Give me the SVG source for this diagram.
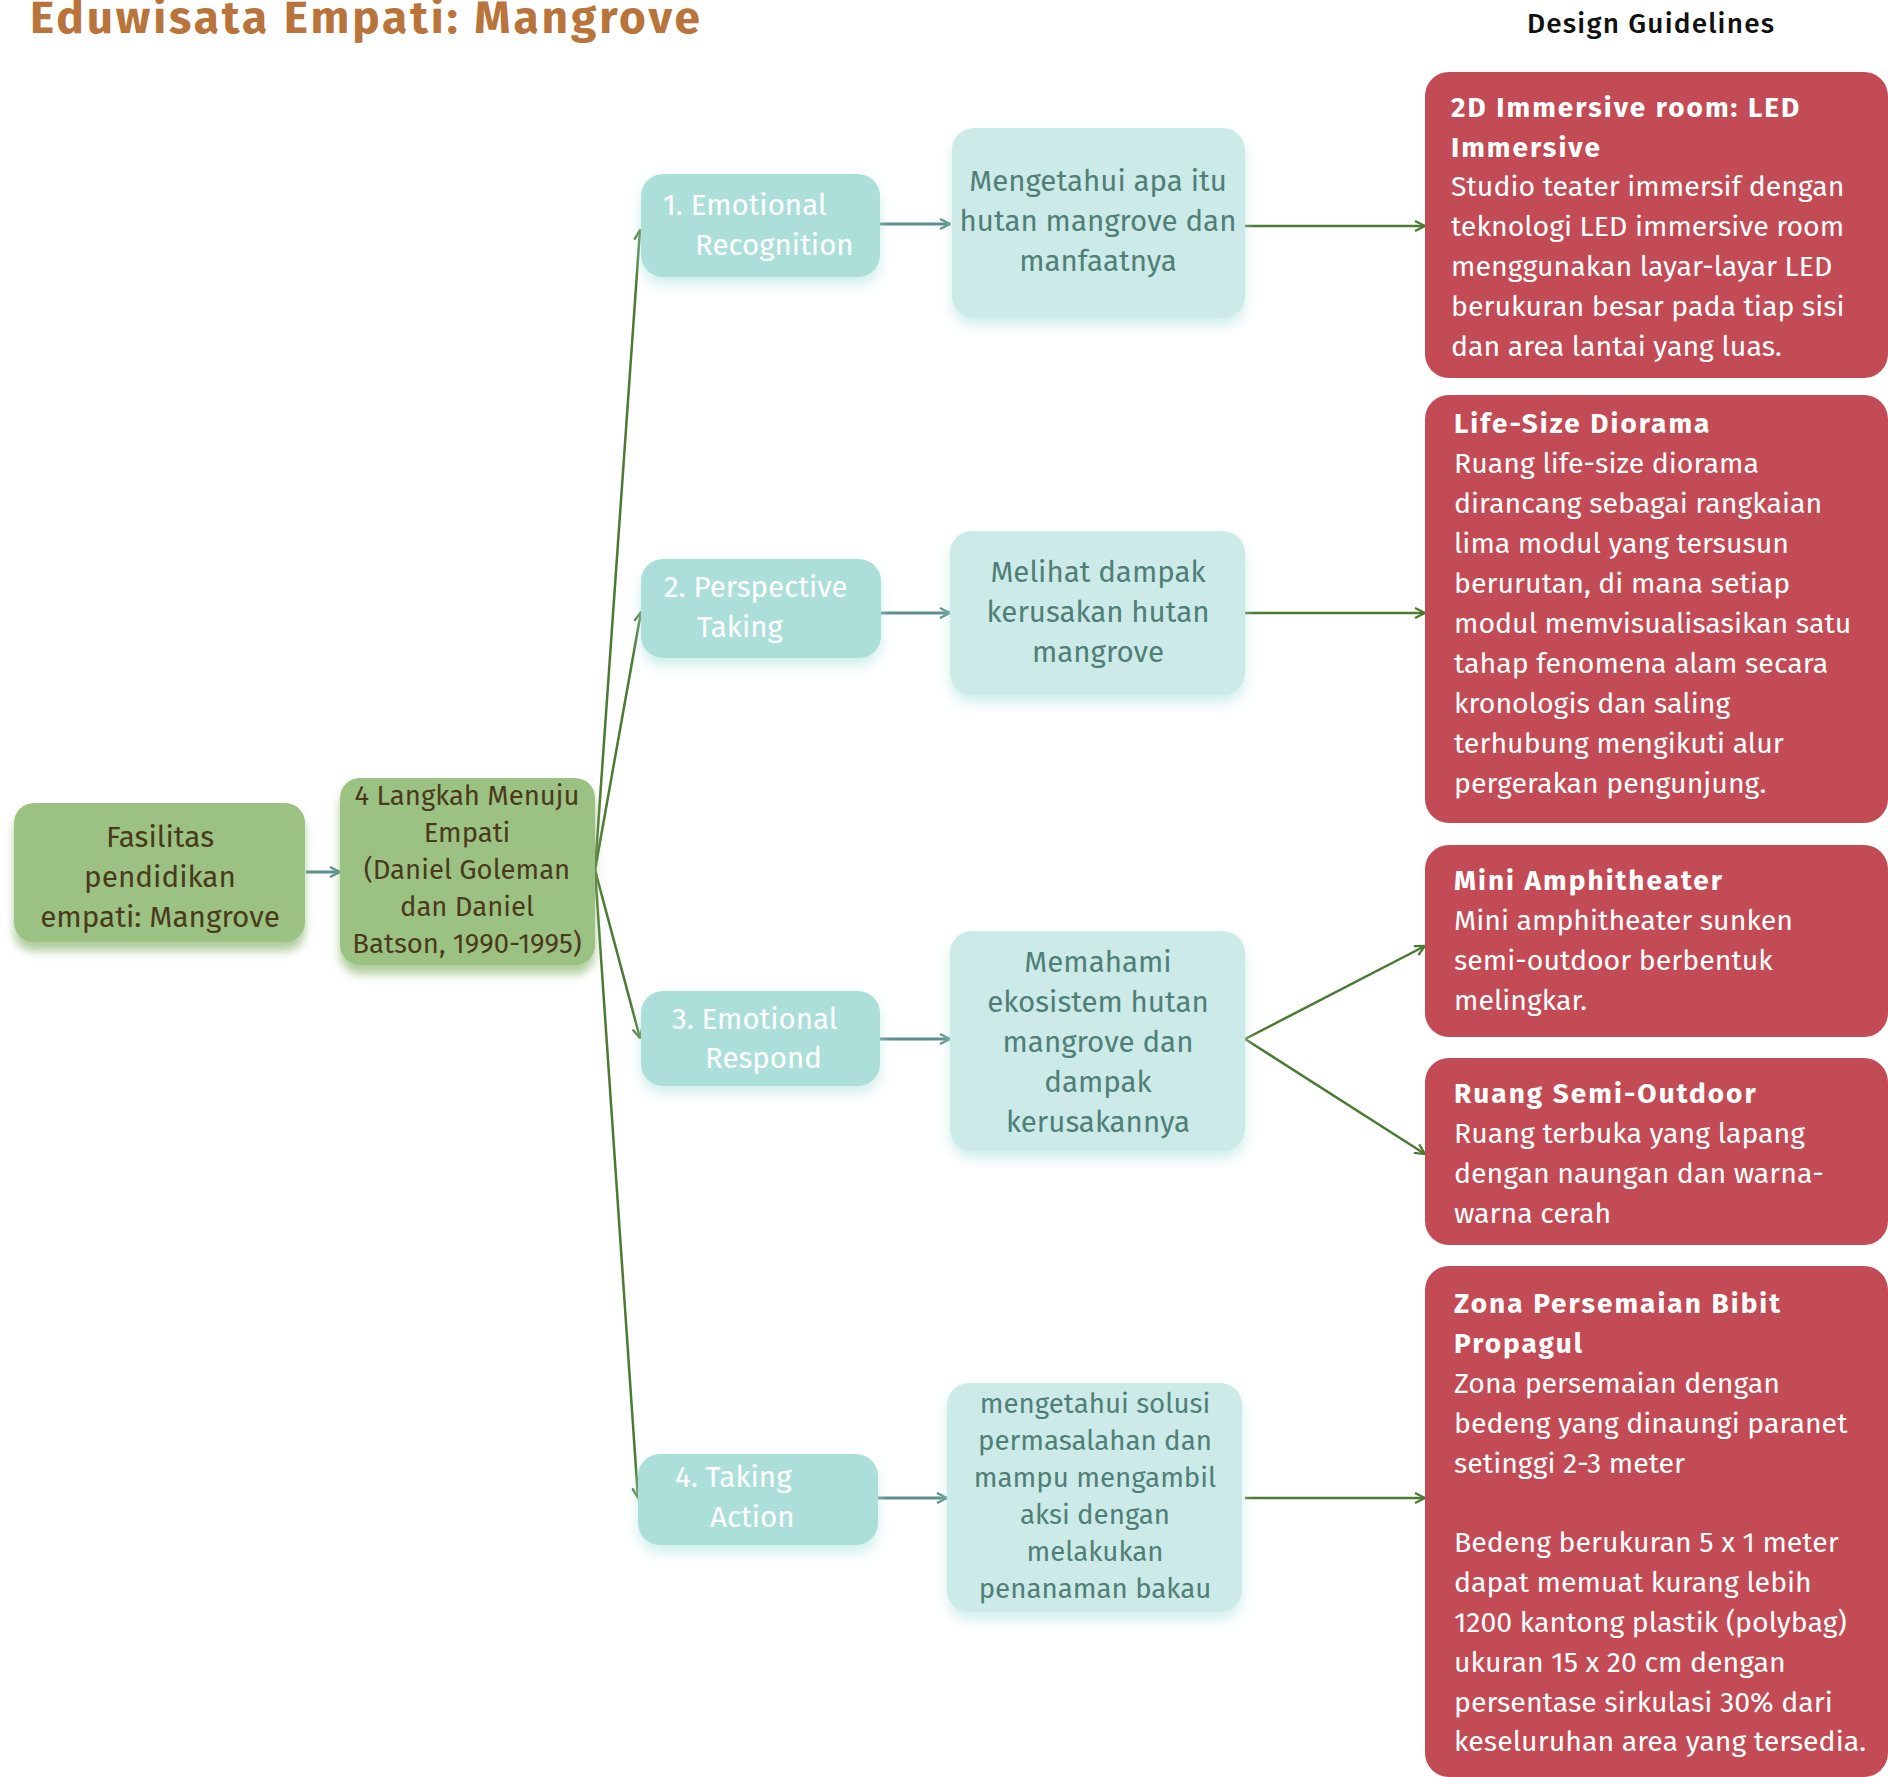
<svg xmlns="http://www.w3.org/2000/svg" width="1888" height="1777" viewBox="0 0 1888 1777">
<style>
text{font-family:"Fira Sans","Noto Sans","Open Sans",sans-serif;}
.title{font-size:46px;font-weight:700;fill:#B8743A;}
.dg{font-size:28px;font-weight:500;fill:#111;}
.gnode{fill:#9BC283;}
.gtxt{font-size:29.7px;fill:#4A3A1C;text-anchor:middle;}
.btxt{font-size:27.5px;fill:#4A3A1C;text-anchor:middle;}
.tnode{fill:#ACDFD9;}
.ttxt{font-size:29.5px;fill:#FFFFFF;}
.lnode{fill:#CCEAE7;}
.ltxt{font-size:29.5px;fill:#4F7F77;text-anchor:middle;}
.ltxt2{font-size:27.7px;fill:#4F7F77;text-anchor:middle;}
.rnode{fill:#C34B55;}
.rtxt{font-size:28.5px;fill:#FFFFFF;}
.rb{font-size:28px;font-weight:700;letter-spacing:2px;}
.cg{fill:none;stroke:#4B7A32;stroke-width:2.5;marker-end:url(#ag);}
.ct{fill:none;stroke:#5B8E8A;stroke-width:3;marker-end:url(#at);}
</style>
<defs>
<marker id="ag" viewBox="0 0 12 12" refX="11" refY="6" markerWidth="12" markerHeight="12" markerUnits="userSpaceOnUse" orient="auto">
<path d="M1,1 L11,6 L1,11" fill="none" stroke="#4B7A32" stroke-width="2.2"/>
</marker>
<marker id="at" viewBox="0 0 12 12" refX="11" refY="6" markerWidth="12" markerHeight="12" markerUnits="userSpaceOnUse" orient="auto">
<path d="M1,1 L11,6 L1,11" fill="none" stroke="#5B8E8A" stroke-width="2.2"/>
</marker>
<filter id="sg" x="-20%" y="-20%" width="140%" height="150%">
<feDropShadow dx="0" dy="9" stdDeviation="5" flood-color="#8DB873" flood-opacity="0.7"/>
</filter>
<filter id="st" x="-20%" y="-20%" width="140%" height="150%">
<feDropShadow dx="0" dy="8" stdDeviation="6" flood-color="#BFEAE5" flood-opacity="0.7"/>
</filter>
</defs>

<text class="title" x="30" y="33" textLength="670" lengthAdjust="spacing">Eduwisata Empati: Mangrove</text>
<text class="dg" x="1527" y="33" textLength="247" lengthAdjust="spacing">Design Guidelines</text>

<g id="connectors">
<line class="ct" x1="306" y1="872" x2="340" y2="872"/>
<line class="cg" x1="595" y1="870" x2="640" y2="230"/>
<line class="cg" x1="595" y1="870" x2="641" y2="612"/>
<line class="cg" x1="595" y1="870" x2="640" y2="1038"/>
<line class="cg" x1="595" y1="870" x2="638" y2="1498"/>
<line class="ct" x1="880" y1="224" x2="950" y2="224"/>
<line class="ct" x1="881" y1="613" x2="950" y2="613"/>
<line class="ct" x1="880" y1="1039" x2="950" y2="1039"/>
<line class="ct" x1="878" y1="1498" x2="947" y2="1498"/>
<line class="cg" x1="1245" y1="226" x2="1425" y2="226"/>
<line class="cg" x1="1245" y1="613" x2="1425" y2="613"/>
<line class="cg" x1="1245" y1="1039" x2="1425" y2="946"/>
<line class="cg" x1="1245" y1="1039" x2="1425" y2="1154"/>
<line class="cg" x1="1245" y1="1498" x2="1425" y2="1498"/>
</g>

<g id="node-fasilitas">
<rect class="gnode" x="14" y="803" width="291" height="139" rx="20" filter="url(#sg)"/>
<text class="gtxt" x="160" y="847">Fasilitas</text>
<text class="gtxt" x="160" y="887">pendidikan</text>
<text class="gtxt" x="160" y="927">empati: Mangrove</text>
</g>

<g id="node-langkah">
<rect class="gnode" x="340" y="778" width="255" height="187" rx="20" filter="url(#sg)"/>
<text class="btxt" x="467" y="805">4 Langkah Menuju</text>
<text class="btxt" x="467" y="842">Empati</text>
<text class="btxt" x="467" y="879">(Daniel Goleman</text>
<text class="btxt" x="467" y="916">dan Daniel</text>
<text class="btxt" x="467" y="953">Batson, 1990-1995)</text>
</g>

<g id="node-step1">
<rect class="tnode" x="641" y="174" width="239" height="103" rx="22" filter="url(#st)"/>
<text class="ttxt" x="663" y="215">1. Emotional</text>
<text class="ttxt" x="695" y="255">Recognition</text>
</g>
<g id="node-step2">
<rect class="tnode" x="641" y="559" width="240" height="99" rx="22" filter="url(#st)"/>
<text class="ttxt" x="664" y="597">2. Perspective</text>
<text class="ttxt" x="697" y="637">Taking</text>
</g>
<g id="node-step3">
<rect class="tnode" x="641" y="991" width="239" height="95" rx="22" filter="url(#st)"/>
<text class="ttxt" x="672" y="1029">3. Emotional</text>
<text class="ttxt" x="705" y="1068">Respond</text>
</g>
<g id="node-step4">
<rect class="tnode" x="638" y="1454" width="240" height="91" rx="22" filter="url(#st)"/>
<text class="ttxt" x="675" y="1487">4. Taking</text>
<text class="ttxt" x="710" y="1527">Action</text>
</g>

<g id="node-goal1">
<rect class="lnode" x="952" y="128" width="293" height="190" rx="22" filter="url(#st)"/>
<text class="ltxt" x="1098" y="191">Mengetahui apa itu</text>
<text class="ltxt" x="1098" y="231">hutan mangrove dan</text>
<text class="ltxt" x="1098" y="271">manfaatnya</text>
</g>
<g id="node-goal2">
<rect class="lnode" x="950" y="531" width="295" height="164" rx="22" filter="url(#st)"/>
<text class="ltxt" x="1098" y="582">Melihat dampak</text>
<text class="ltxt" x="1098" y="622">kerusakan hutan</text>
<text class="ltxt" x="1098" y="662">mangrove</text>
</g>
<g id="node-goal3">
<rect class="lnode" x="950" y="931" width="295" height="220" rx="22" filter="url(#st)"/>
<text class="ltxt" x="1098" y="972">Memahami</text>
<text class="ltxt" x="1098" y="1012">ekosistem hutan</text>
<text class="ltxt" x="1098" y="1052">mangrove dan</text>
<text class="ltxt" x="1098" y="1092">dampak</text>
<text class="ltxt" x="1098" y="1132">kerusakannya</text>
</g>
<g id="node-goal4">
<rect class="lnode" x="947" y="1383" width="295" height="229" rx="22" filter="url(#st)"/>
<text class="ltxt2" x="1095" y="1413">mengetahui solusi</text>
<text class="ltxt2" x="1095" y="1450">permasalahan dan</text>
<text class="ltxt2" x="1095" y="1487">mampu mengambil</text>
<text class="ltxt2" x="1095" y="1524">aksi dengan</text>
<text class="ltxt2" x="1095" y="1561">melakukan</text>
<text class="ltxt2" x="1095" y="1598">penanaman bakau</text>
</g>

<g id="node-immersive">
<rect class="rnode" x="1425" y="72" width="463" height="306" rx="24"/>
<text class="rtxt rb" x="1451" y="117">2D Immersive room: LED</text>
<text class="rtxt rb" x="1451" y="157">Immersive</text>
<text class="rtxt" x="1451" y="196">Studio teater immersif dengan</text>
<text class="rtxt" x="1451" y="236">teknologi LED immersive room</text>
<text class="rtxt" x="1451" y="276">menggunakan layar-layar LED</text>
<text class="rtxt" x="1451" y="316">berukuran besar pada tiap sisi</text>
<text class="rtxt" x="1451" y="356">dan area lantai yang luas.</text>
</g>

<g id="node-diorama">
<rect class="rnode" x="1425" y="395" width="463" height="428" rx="24"/>
<text class="rtxt rb" x="1454" y="433">Life-Size Diorama</text>
<text class="rtxt" x="1454" y="473">Ruang life-size diorama</text>
<text class="rtxt" x="1454" y="513">dirancang sebagai rangkaian</text>
<text class="rtxt" x="1454" y="553">lima modul yang tersusun</text>
<text class="rtxt" x="1454" y="593">berurutan, di mana setiap</text>
<text class="rtxt" x="1454" y="633">modul memvisualisasikan satu</text>
<text class="rtxt" x="1454" y="673">tahap fenomena alam secara</text>
<text class="rtxt" x="1454" y="713">kronologis dan saling</text>
<text class="rtxt" x="1454" y="753">terhubung mengikuti alur</text>
<text class="rtxt" x="1454" y="793">pergerakan pengunjung.</text>
</g>

<g id="node-amphitheater">
<rect class="rnode" x="1425" y="845" width="463" height="192" rx="24"/>
<text class="rtxt rb" x="1454" y="890">Mini Amphitheater</text>
<text class="rtxt" x="1454" y="930">Mini amphitheater sunken</text>
<text class="rtxt" x="1454" y="970">semi-outdoor berbentuk</text>
<text class="rtxt" x="1454" y="1010">melingkar.</text>
</g>

<g id="node-semioutdoor">
<rect class="rnode" x="1425" y="1058" width="463" height="187" rx="24"/>
<text class="rtxt rb" x="1454" y="1103">Ruang Semi-Outdoor</text>
<text class="rtxt" x="1454" y="1143">Ruang terbuka yang lapang</text>
<text class="rtxt" x="1454" y="1183">dengan naungan dan warna-</text>
<text class="rtxt" x="1454" y="1223">warna cerah</text>
</g>

<g id="node-persemaian">
<rect class="rnode" x="1425" y="1266" width="463" height="511" rx="24"/>
<text class="rtxt rb" x="1454" y="1313">Zona Persemaian Bibit</text>
<text class="rtxt rb" x="1454" y="1353">Propagul</text>
<text class="rtxt" x="1454" y="1393">Zona persemaian dengan</text>
<text class="rtxt" x="1454" y="1433">bedeng yang dinaungi paranet</text>
<text class="rtxt" x="1454" y="1473">setinggi 2-3 meter</text>
<text class="rtxt" x="1454" y="1552">Bedeng berukuran 5 x 1 meter</text>
<text class="rtxt" x="1454" y="1592">dapat memuat kurang lebih</text>
<text class="rtxt" x="1454" y="1632">1200 kantong plastik (polybag)</text>
<text class="rtxt" x="1454" y="1672">ukuran 15 x 20 cm dengan</text>
<text class="rtxt" x="1454" y="1712">persentase sirkulasi 30% dari</text>
<text class="rtxt" x="1454" y="1751">keseluruhan area yang tersedia.</text>
</g>
</svg>
